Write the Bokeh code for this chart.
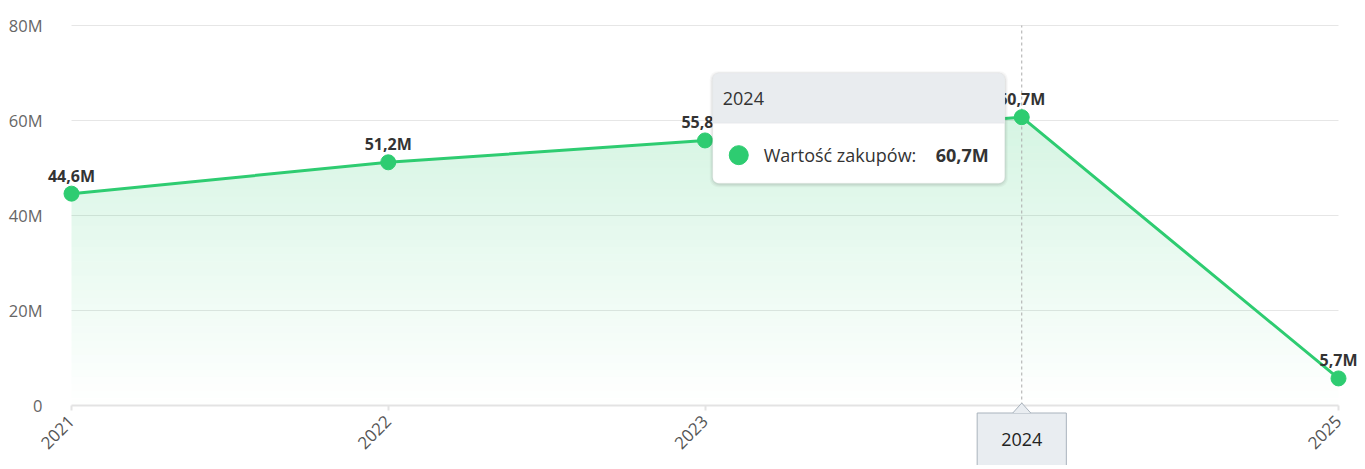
import numpy as np
from bokeh.plotting import figure
from bokeh.models import (Range1d, FixedTicker, BoxAnnotation, Label, LabelSet,
                          ColumnDataSource, LinearAxis)
from bokeh.core.properties import value
from bokeh.embed import file_html
from bokeh.resources import INLINE

# ---- data ----
years = [2021, 2022, 2023, 2024, 2025]
values = [44.6, 51.2, 55.8, 60.7, 5.7]          # millions
point_labels = ["44,6M", "51,2M", "55,8M", "60,7M", "5,7M"]
y_ticks = [0, 20, 40, 60, 80]
y_tick_labels = ["0", "20M", "40M", "60M", "80M"]
series_name = "Wartość zakupów"
hover_index = 3

GREEN = "#2ecc71"
FONT = "Open Sans"

# ---- layout (pixels) ----
W, H = 1360, 465
PL, PR, PT, PB = 71, 1338, 25, 405        # plot area edges in canvas pixels
x0, x1 = years[0], years[-1]
y0, y1 = y_ticks[0], y_ticks[-1]
kx = (x1 - x0) / (PR - PL)
ky = (y1 - y0) / (PB - PT)

def dx(px):
    return px * kx

def dy(px):
    return px * ky

p = figure(width=W, height=H, output_backend="svg", toolbar_location=None,
           x_range=Range1d(x0 - PL * kx, x1 + (W - PR) * kx),
           y_range=Range1d(y0 - (H - PB) * ky, y1 + PT * ky),
           x_axis_location=None, y_axis_location=None,
           min_border=0, min_border_left=0, min_border_right=0,
           min_border_top=0, min_border_bottom=0,
           outline_line_color=None, background_fill_color="white", border_fill_color="white")
p.grid.visible = False

# axes (fixed inside the frame)
xaxis = LinearAxis(fixed_location=y0, bounds=(x0, x1), ticker=FixedTicker(ticks=years),
                   major_label_overrides={y: str(y) for y in years},
                   major_label_orientation=np.pi / 4,
                   axis_line_color="#e3e3e3", axis_line_width=2,
                   major_tick_line_color="#e3e3e3", major_tick_line_width=2,
                   major_tick_out=5, major_tick_in=0, minor_tick_line_color=None,
                   major_label_standoff=8, major_label_text_font=FONT,
                   major_label_text_font_size="17px", major_label_text_color="#555555")
p.add_layout(xaxis, "below")
yaxis = LinearAxis(fixed_location=x0, bounds=(y0, y1), ticker=FixedTicker(ticks=y_ticks),
                   major_label_overrides={t: l for t, l in zip(y_ticks, y_tick_labels)},
                   axis_line_color=None, major_tick_line_color=None, minor_tick_line_color=None,
                   major_tick_out=0, major_tick_in=0, major_label_standoff=29,
                   major_label_text_font=FONT, major_label_text_font_size="16.5px",
                   major_label_text_color="#666666")
p.add_layout(yaxis, "left")

# horizontal grid lines limited to the plot area
p.segment(x0=[x0] * (len(y_ticks) - 1), x1=[x1] * (len(y_ticks) - 1),
          y0=y_ticks[1:], y1=y_ticks[1:], line_color="#e6e6e6", line_width=1)

# gradient area (horizontal bands)
xs = np.linspace(x0, x1, 800)
line = np.interp(xs, years, values)
vmax = max(values)
N = 40
for k in range(N):
    lo = vmax * k / N
    hi = vmax * (k + 1) / N
    p.varea(x=xs, y1=np.minimum(line, lo), y2=np.minimum(line, hi),
            fill_color=GREEN, fill_alpha=0.2 * (k + 0.5) / N)

# crosshair
hx, hy = years[hover_index], values[hover_index]
p.segment(x0=[hx], x1=[hx], y0=[y0], y1=[y1], line_color="#aaaaaa", line_width=1,
          line_dash="3 3")

src = ColumnDataSource(dict(x=years, y=values, lab=point_labels))
p.line("x", "y", source=src, line_color=GREEN, line_width=3)
p.scatter("x", "y", source=src, size=15, fill_color=GREEN, line_color=GREEN)
p.add_layout(LabelSet(x="x", y="y", text="lab", source=src, y_offset=18, text_align="center",
                      text_baseline="middle", text_font=value(FONT), text_font_size="16px",
                      text_font_style="bold", text_color="#333333"))

# tooltip anchored at hovered point
t_left, t_right = hx + dx(-309), hx + dx(-17)
t_top, t_bot = hy + dy(44), hy - dy(66)
t_head = hy - dy(6)
for i, a in enumerate([0.03, 0.04, 0.05]):
    g = 3 - i
    p.add_layout(BoxAnnotation(left=t_left - dx(g), right=t_right + dx(g),
                               top=t_top + dy(g - 1), bottom=t_bot - dy(g + 1),
                               fill_color="black", fill_alpha=a, line_color=None,
                               border_radius=8))
p.add_layout(BoxAnnotation(left=t_left, right=t_right, top=t_top, bottom=t_bot,
                           fill_color="white", fill_alpha=1, line_color="#e4e4e4",
                           line_width=1, border_radius=6))
p.add_layout(BoxAnnotation(left=t_left, right=t_right, top=t_top, bottom=t_head,
                           fill_color="#e9ecef", fill_alpha=1, line_color="#dee2e6",
                           line_width=1, border_radius=(6, 6, 0, 0)))

p.text(x=[t_left + dx(10)], y=[hy + dy(19)], text=[str(hx)], text_align="left",
       text_baseline="middle", text_font=value(FONT), text_font_size="18px",
       text_color="#333333", level="overlay")
p.scatter(x=[t_left + dx(26)], y=[hy - dy(38)], size=19, fill_color=GREEN,
          line_color=GREEN, level="overlay")
p.text(x=[t_left + dx(51)], y=[hy - dy(38)], text=[series_name + ":"], text_align="left",
       text_baseline="middle", text_font=value(FONT), text_font_size="18px",
       text_color="#333333", level="overlay")
p.text(x=[t_right - dx(16)], y=[hy - dy(38)], text=[point_labels[hover_index]],
       text_align="right", text_baseline="middle", text_font=value(FONT),
       text_font_size="18px", text_font_style="bold", text_color="#333333", level="overlay")

# axis pointer label with small pointer (padding: left, right, top, bottom)
p.add_layout(Label(x=hx, y=y0, y_offset=-39, text=str(hx), text_align="center",
                   text_baseline="middle", text_font=FONT, text_font_size="18px",
                   text_color="#222222", background_fill_color="#e9edf1",
                   background_fill_alpha=1, border_line_color="#a9b3bd", border_line_width=1,
                   padding=(24, 24, 20, 30)))
tri_x = [hx - dx(9), hx, hx + dx(9)]
tri_y = [y0 - dy(7.5), y0 - dy(-2.5), y0 - dy(7.5)]
p.patch(x=tri_x + [tri_x[0]], y=tri_y + [tri_y[0]], fill_color="#e9edf1", line_color=None,
        level="overlay")
p.line(x=tri_x, y=tri_y, line_color="#a9b3bd", line_width=1, level="overlay")

open("out.html", "w").write(file_html(p, INLINE))
